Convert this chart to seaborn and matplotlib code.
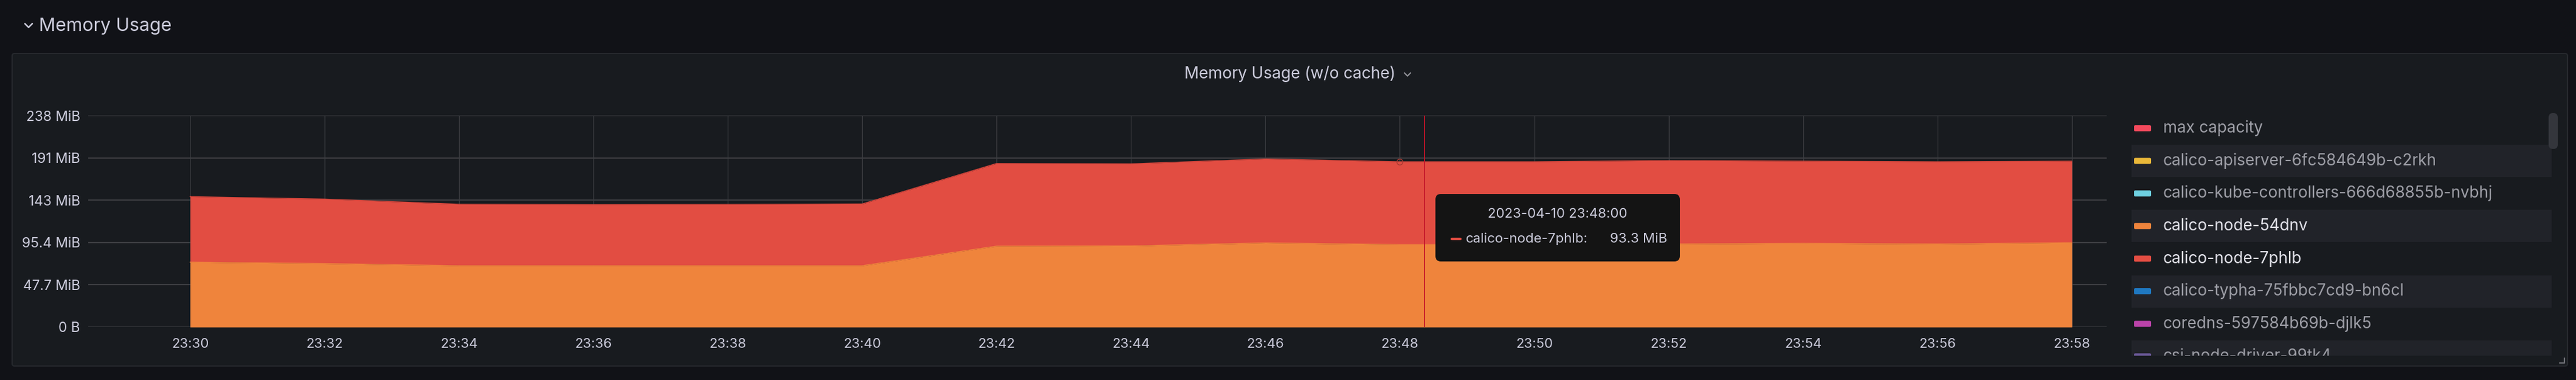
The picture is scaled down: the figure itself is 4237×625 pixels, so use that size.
import matplotlib
matplotlib.use("Agg")
import pandas as pd
import matplotlib.pyplot as plt
import matplotlib.dates as mdates
from matplotlib.patches import Rectangle, FancyBboxPatch
import seaborn as sns

# --- data (MiB), one sample every 2 minutes ---
times = ["23:30", "23:32", "23:34", "23:36", "23:38", "23:40", "23:42", "23:44",
         "23:46", "23:48", "23:50", "23:52", "23:54", "23:56", "23:58"]
node_54dnv = [73.2, 71.6, 69.2, 69.2, 69.2, 69.2, 91.2, 91.5,
              94.9, 93.0, 93.0, 93.7, 94.4, 93.7, 95.1]
node_7phlb = [73.8, 72.7, 69.3, 68.9, 69.1, 69.6, 93.2, 92.5,
              94.6, 93.3, 93.3, 94.0, 92.6, 92.6, 91.9]

y_ticks = [0, 47.68, 95.37, 143.05, 190.73, 238.42]
y_tick_labels = ["0 B", "47.7 MiB", "95.4 MiB", "143 MiB", "191 MiB", "238 MiB"]

legend_names = ["max capacity", "calico-apiserver-6fc584649b-c2rkh",
                "calico-kube-controllers-666d68855b-nvbhj", "calico-node-54dnv",
                "calico-node-7phlb", "calico-typha-75fbbc7cd9-bn6cl",
                "coredns-597584b69b-djlk5", "csi-node-driver-99tk4"]
legend_colors = ["#F2495C", "#EAB839", "#6ED0E0", "#EF843C",
                 "#E24D42", "#1F78C1", "#BA43A9", "#705DA0"]
legend_active = [False, False, False, True, True, False, False, False]

day = "2023-04-10 "
crosshair_time = "23:48:22"
hover_time = "23:48"
hover_series = "calico-node-7phlb"
hover_value = 93.3

ORANGE = "#EF843C"
RED = "#E24D42"
TEXT = "#ccccdc"
PAGE_BG = "#111217"
PANEL_BG = "#181b1f"

sns.set_theme(style="dark")
plt.rcParams["font.family"] = ["Inter", "DejaVu Sans"]

df = pd.DataFrame({
    "time": pd.to_datetime([day + t for t in times]),
    "node_54dnv": node_54dnv,
    "node_7phlb": node_7phlb,
})
df["stack_top"] = df["node_54dnv"] + df["node_7phlb"]

W, H = 4237, 625
fig = plt.figure(figsize=(W / 100, H / 100), dpi=100, facecolor=PAGE_BG)

# background: section header + panel
bg = fig.add_axes([0, 0, 1, 1], zorder=0)
bg.set_xlim(0, W)
bg.set_ylim(H, 0)
bg.axis("off")
bg.add_patch(FancyBboxPatch((20, 88), 4203, 514, boxstyle="round,pad=0,rounding_size=4",
                            fc=PANEL_BG, ec="#26282d", lw=1.5))
bg.plot([41, 47, 53], [39, 45, 39], color=TEXT, lw=1.8, solid_capstyle="round")
bg.text(64, 43, "Memory Usage", fontsize=21.8, color=TEXT, va="center", ha="left")
bg.text(2122, 122, "Memory Usage (w/o cache)", fontsize=19, color=TEXT,
        va="center", ha="center")
bg.plot([2310, 2315, 2320], [120, 125, 120], color="#8e8e95", lw=1.5)
bg.plot([4210, 4218, 4218], [597, 597, 589], color="#6e6f75", lw=1.5)

# chart
ax = fig.add_axes([145 / W, 1 - 538 / H, (3465 - 145) / W, (538 - 190) / H], zorder=1)
ax.set_facecolor(PANEL_BG)
ax.fill_between(df["time"], 0, df["node_54dnv"], color=ORANGE, lw=0, zorder=2)
ax.fill_between(df["time"], df["node_54dnv"], df["stack_top"], color=RED, lw=0, zorder=2)
sns.lineplot(data=df, x="time", y="node_54dnv", color=ORANGE, lw=1, ax=ax, zorder=3)
sns.lineplot(data=df, x="time", y="stack_top", color="#d8463c", lw=1, ax=ax, zorder=3)

ax.set_xlim(pd.Timestamp(day + "23:28:29"), pd.Timestamp(day + "23:58:31"))
ax.set_ylim(0, y_ticks[-1])
ax.set_yticks(y_ticks)
ax.set_yticklabels(y_tick_labels)
ax.xaxis.set_major_locator(mdates.MinuteLocator(byminute=range(0, 60, 2)))
ax.xaxis.set_major_formatter(mdates.DateFormatter("%H:%M"))
ax.set_xlabel("")
ax.set_ylabel("")
ax.set_axisbelow(True)
ax.yaxis.grid(True, color="#3c3d41", lw=1.5)
ax.xaxis.grid(True, color="#3c3d41", lw=0.9)
for s in ax.spines.values():
    s.set_visible(False)
ax.tick_params(axis="y", length=0, pad=9.4, labelsize=16.3, labelcolor=TEXT)
ax.tick_params(axis="x", length=0, pad=13, labelsize=16, labelcolor=TEXT)

ax.axvline(pd.Timestamp(day + crosshair_time), color="#C4162A", lw=1.3, zorder=5)
hv = df[df["time"] == pd.Timestamp(day + hover_time)]
ax.plot(hv["time"], hv["stack_top"], marker="o", mfc="none", mec="#a83a33",
        ms=7, mew=1, zorder=6)

# legend list
lg = fig.add_axes([3500 / W, 1 - 585 / H, (4215 - 3500) / W, (585 - 185) / H], zorder=2)
lg.set_xlim(3500, 4215)
lg.set_ylim(585, 185)
lg.axis("off")
for i, (name, col, act) in enumerate(zip(legend_names, legend_colors, legend_active)):
    yc = 211 + i * 53.6
    if i % 2 == 1:
        lg.add_patch(Rectangle((3506, yc - 26.5), 691, 53, fc="#212329", ec="none"))
    lg.add_patch(FancyBboxPatch((3510, yc - 5), 28, 10, boxstyle="round,pad=0,rounding_size=2",
                                fc=col, ec="none"))
    lg.text(3558, yc, name, fontsize=18.8, va="center", ha="left", clip_on=True,
            color="#e2e2ea" if act else "#9d9ea6")
lg.add_patch(FancyBboxPatch((4192, 186), 15, 59, boxstyle="round,pad=0,rounding_size=7",
                            fc="#34363c", ec="none"))

# tooltip
ov = fig.add_axes([0, 0, 1, 1], zorder=4)
ov.set_xlim(0, W)
ov.set_ylim(H, 0)
ov.axis("off")
ov.patch.set_alpha(0)
ov.add_patch(FancyBboxPatch((2361, 319), 402, 111, boxstyle="round,pad=0,rounding_size=9",
                            fc="#141414", ec="none"))
ov.text(2562, 352, day + hover_time + ":00", fontsize=16, color=TEXT, ha="center", va="center")
ov.plot([2388, 2402], [393, 393], color=RED, lw=3, solid_capstyle="round")
ov.text(2411, 393, hover_series + ":", fontsize=16, color=TEXT, ha="left", va="center")
ov.text(2742, 393, f"{hover_value} MiB", fontsize=16, color=TEXT, ha="right", va="center")

fig.savefig("out.png", dpi=100, facecolor=PAGE_BG)
